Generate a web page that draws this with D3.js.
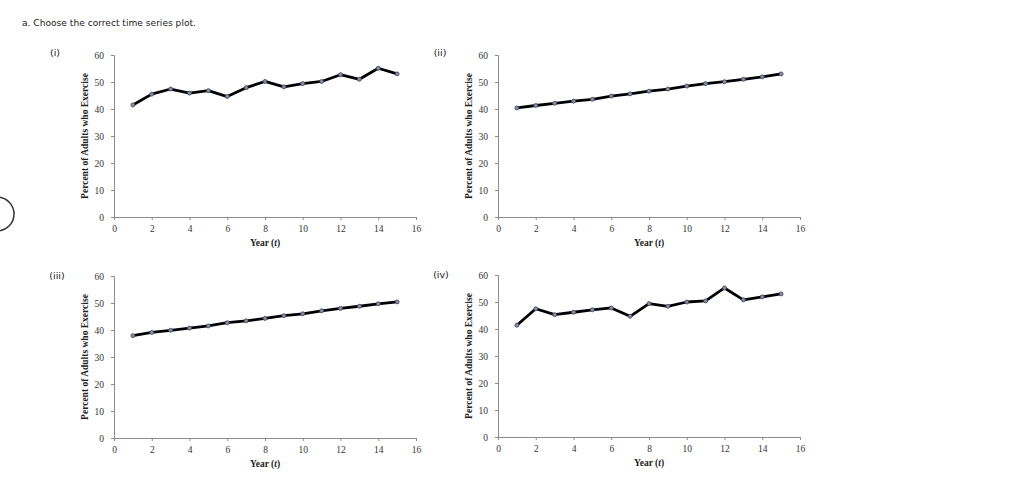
<!DOCTYPE html>
<html lang="en">
<head>
<meta charset="UTF-8">
<title>Time series plots</title>
<style>
  body { margin: 0; background: #fff; }
  .axis .domain, .axis line { stroke: #8c8c8c; }
  .axis text { font-family: "Liberation Serif", serif; font-size: 9.5px; fill: #333; }
</style>
</head>
<body>
<svg width="1024" height="482"></svg>
<script src="https://d3js.org/d3.v7.min.js"></script>
<script>
// years and the four candidate series
var years = [1,2,3,4,5,6,7,8,9,10,11,12,13,14,15];
var seriesI   = [41.5,45.5,47.4,45.9,46.8,44.6,47.9,50.2,48.2,49.4,50.2,52.7,51.0,55.1,53.0];
var seriesII  = [40.4,41.3,42.1,42.9,43.6,44.8,45.6,46.6,47.4,48.5,49.4,50.1,51.0,51.9,53.0];
var seriesIII = [37.9,39.1,39.9,40.7,41.5,42.7,43.4,44.3,45.3,46.0,47.1,48.0,48.8,49.7,50.4];
var seriesIV  = [41.4,47.5,45.3,46.2,47.1,47.8,44.7,49.4,48.4,50.0,50.4,55.2,50.8,51.9,53.0];
var xTicks = [0,2,4,6,8,10,12,14,16];
var yTicks = [0,10,20,30,40,50,60];
var panelLabels = ["(i)", "(ii)", "(iii)", "(iv)"];

var svg = d3.select("svg");

svg.append("text")
    .attr("x", 22).attr("y", 26)
    .attr("font-family", "DejaVu Sans, Verdana, sans-serif")
    .attr("font-size", 9.1)
    .attr("fill", "#1a1a1a")
    .text("a. Choose the correct time series plot.");

// partial radio circle at the left edge
svg.append("circle")
    .attr("cx", -3).attr("cy", 214).attr("r", 17)
    .attr("fill", "none").attr("stroke", "#333").attr("stroke-width", 1.5);

var w = 302, h = 162;
var panels = [
    {label: panelLabels[0], data: seriesI,   ox: 114, oy: 55,  lx: 55,  ly: 56},
    {label: panelLabels[1], data: seriesII,  ox: 498, oy: 55,  lx: 440, ly: 56},
    {label: panelLabels[2], data: seriesIII, ox: 114, oy: 276, lx: 57,  ly: 279},
    {label: panelLabels[3], data: seriesIV,  ox: 498, oy: 275, lx: 441, ly: 278}
];

var x = d3.scaleLinear().domain([0, 16]).range([0, w]);
var y = d3.scaleLinear().domain([0, 60]).range([h, 0]);

panels.forEach(function(p) {
    svg.append("text")
        .attr("x", p.lx).attr("y", p.ly)
        .attr("text-anchor", "middle")
        .attr("font-family", "DejaVu Sans, Verdana, sans-serif")
        .attr("font-size", 9.5)
        .attr("fill", "#222")
        .text(p.label);

    var g = svg.append("g").attr("transform", "translate(" + p.ox + "," + p.oy + ")");

    g.append("g").attr("class", "axis")
        .attr("transform", "translate(0," + h + ")")
        .call(d3.axisBottom(x).tickValues(xTicks).tickSize(3).tickPadding(5));

    g.append("g").attr("class", "axis")
        .call(d3.axisLeft(y).tickValues(yTicks).tickSize(3).tickPadding(7));

    var pts = years.map(function(t, i) { return [t, p.data[i]]; });

    g.append("path")
        .datum(pts)
        .attr("fill", "none")
        .attr("stroke", "#000")
        .attr("stroke-width", 2.8)
        .attr("stroke-linejoin", "round")
        .attr("d", d3.line().x(function(d) { return x(d[0]); }).y(function(d) { return y(d[1]); }));

    g.selectAll("circle.pt")
        .data(pts)
        .enter().append("circle")
        .attr("class", "pt")
        .attr("cx", function(d) { return x(d[0]); })
        .attr("cy", function(d) { return y(d[1]); })
        .attr("r", 2)
        .attr("fill", "#8090a8")
        .attr("stroke", "#3c4658")
        .attr("stroke-width", 0.8);

    g.append("text")
        .attr("transform", "translate(-26," + (h / 2) + ") rotate(-90)")
        .attr("text-anchor", "middle")
        .attr("font-family", "Liberation Serif, serif")
        .attr("font-weight", "bold")
        .attr("font-size", 9.5)
        .attr("fill", "#222")
        .text("Percent of Adults who Exercise");

    var xl = g.append("text")
        .attr("x", x(8))
        .attr("y", h + 29)
        .attr("text-anchor", "middle")
        .attr("font-family", "Liberation Serif, serif")
        .attr("font-weight", "bold")
        .attr("font-size", 9.5)
        .attr("fill", "#222");
    xl.append("tspan").text("Year (");
    xl.append("tspan").attr("font-style", "italic").text("t");
    xl.append("tspan").text(")");
});
</script>
</body>
</html>
